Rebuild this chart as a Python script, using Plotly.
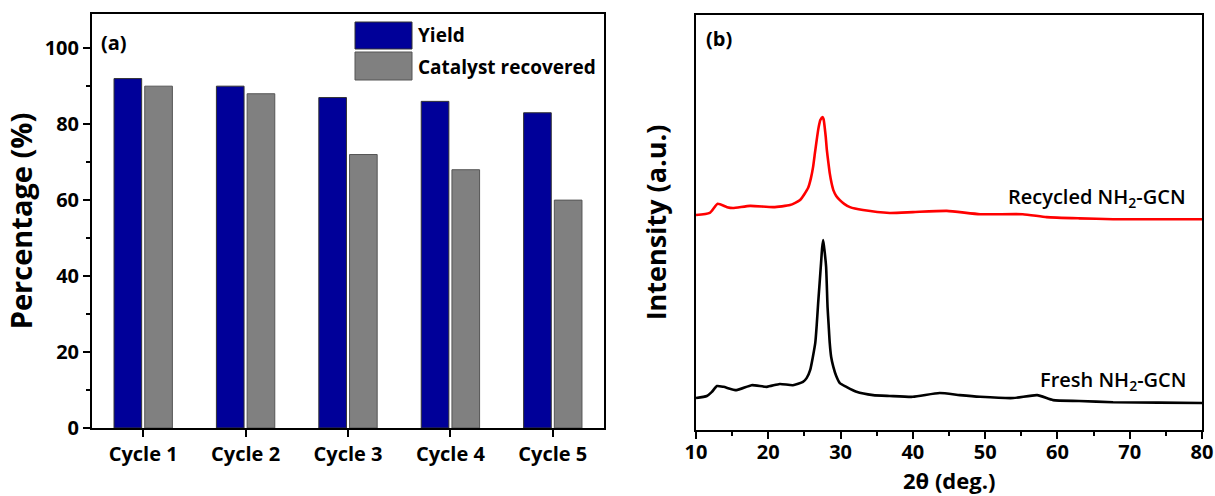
import plotly.graph_objects as go

# ---------------- data ----------------
cycles = ["Cycle 1", "Cycle 2", "Cycle 3", "Cycle 4", "Cycle 5"]
yield_pct = [92, 90, 87, 86, 83]
catalyst_recovered_pct = [90, 88, 72, 68, 60]

fresh_2theta = [10, 11.5, 12.2, 12.9, 13.8, 15.6, 17.7, 19.8, 21.6, 23.4, 24.8, 25.3, 25.8,
                26.5, 26.7, 26.9, 27.1, 27.3, 27.45, 27.6, 27.8, 28.0, 28.2, 28.35, 28.5, 28.7,
                29.0, 29.4, 29.9, 30.8, 32.2, 34.5, 36.8,
                40, 43.7, 46.5, 49.3, 53.9, 57.2, 59.4, 63, 67.7, 74, 80]
fresh_intensity = [7.7, 8.2, 9.2, 10.6, 10.4, 9.6, 10.8, 10.4, 11.1, 10.8, 11.6, 12.5, 14.5,
                   21.0, 25.3, 30.6, 35.4, 40.2, 43.9, 45.8, 42.9, 39.3, 29.6, 25.3, 21.0, 17.6,
                   15.2, 13.0, 11.3, 10.4, 9.2, 8.4, 8.2,
                   8.0, 8.9, 8.4, 8.0, 7.7, 8.4, 7.2, 7.0, 6.7, 6.6, 6.5]

recycled_2theta = [10, 11.9, 13.0, 14.3, 15.1, 17.5, 20.7, 23.0, 24.4, 25.5, 25.9, 26.2, 26.45,
                   26.7, 26.95, 27.2, 27.5, 27.65, 27.8, 27.95, 28.1, 28.3, 28.5, 28.75, 29.0,
                   29.4, 29.9, 30.5, 31.3, 33.1, 36.8, 40, 44.7,
                   49.3, 55.2, 58.5, 63, 67.7, 74, 80]
recycled_intensity = [51.8, 52.3, 54.5, 53.7, 53.5, 54.0, 53.7, 54.2, 55.4, 58.3, 60.7, 63.4, 66.7,
                      69.9, 72.8, 74.7, 75.4, 74.9, 73.0, 70.6, 67.5, 64.6, 61.9, 59.5, 57.8,
                      56.4, 55.4, 54.5, 53.7, 53.0, 52.3, 52.5, 52.8,
                      52.0, 52.0, 51.3, 51.0, 50.8, 50.8, 50.8]

W, H = 1215, 496
FONT = "Open Sans"
BLUE = "#000099"
GRAY = "#808080"


def px_x(p):
    return p / W


def px_y(p):
    return (H - p) / H


fig = go.Figure()

fig.add_trace(go.Bar(x=cycles, y=yield_pct, name="Yield", marker=dict(color=BLUE, line=dict(color="#333333", width=1)),
                     xaxis="x", yaxis="y", showlegend=False))
fig.add_trace(go.Bar(x=cycles, y=catalyst_recovered_pct, name="Catalyst recovered",
                     marker=dict(color=GRAY, line=dict(color="#555555", width=1)),
                     xaxis="x", yaxis="y", showlegend=False))

fig.add_trace(go.Scatter(x=recycled_2theta, y=recycled_intensity, mode="lines", name="Recycled NH2-GCN",
                         line=dict(color="#FF0000", width=2.6, shape="spline", smoothing=0.5),
                         xaxis="x2", yaxis="y2", showlegend=False))
fig.add_trace(go.Scatter(x=fresh_2theta, y=fresh_intensity, mode="lines", name="Fresh NH2-GCN",
                         line=dict(color="black", width=2.6, shape="spline", smoothing=0.5),
                         xaxis="x2", yaxis="y2", showlegend=False))

tickfont = dict(family=FONT, size=20, color="black", weight="bold")
axis_common = dict(showline=True, linecolor="black", linewidth=2, mirror=True, showgrid=False,
                   zeroline=False, ticks="outside", tickwidth=2, tickcolor="black", ticklen=7,
                   tickfont=tickfont, automargin=False)

fig.update_layout(
    width=W, height=H,
    margin=dict(l=0, r=0, t=0, b=0),
    paper_bgcolor="white", plot_bgcolor="white",
    barmode="group", bargap=0.4, bargroupgap=0.1,
    xaxis=dict(domain=[px_x(92), px_x(604)], anchor="y", type="category", range=[-0.5, 4.5], **axis_common),
    yaxis=dict(domain=[px_y(428), px_y(14)], anchor="x", range=[0, 109], dtick=20,
               minor=dict(dtick=10, ticks="outside", ticklen=4, tickwidth=2, tickcolor="black"),
               title=dict(text="Percentage (%)", font=dict(family=FONT, size=29, color="black", weight="bold"),
                          standoff=4),
               **axis_common),
    xaxis2=dict(domain=[px_x(696), px_x(1202)], anchor="y2", range=[10, 80], dtick=10,
                minor=dict(dtick=5, ticks="outside", ticklen=4, tickwidth=2, tickcolor="black"),
                ticklabelstandoff=-4,
                **axis_common),
    yaxis2=dict(domain=[px_y(430), px_y(15)], anchor="x2", range=[0, 100],
                showline=True, linecolor="black", linewidth=2, mirror=True, showgrid=False,
                zeroline=False, ticks="", showticklabels=False, automargin=False,
                title=dict(text="Intensity (a.u.)", font=dict(family=FONT, size=27, color="black", weight="bold"),
                           standoff=20)),
)

# x-axis title of panel (b), placed below the tick labels
fig.add_annotation(xref="paper", yref="paper", x=px_x(949), y=0, text="2θ (deg.)", showarrow=False,
                   xanchor="center", yanchor="bottom", borderpad=0,
                   font=dict(family=FONT, size=22, color="black", weight="bold"))

# custom legend for panel (a)
legend_items = [("Yield", BLUE, "#333333", 22, 49, 35.5), ("Catalyst recovered", GRAY, "#555555", 52, 80, 67)]
for label, fill, edge, top, bot, cy in legend_items:
    fig.add_shape(type="rect", xref="paper", yref="paper", x0=px_x(355), x1=px_x(412),
                  y0=px_y(bot), y1=px_y(top), fillcolor=fill, line=dict(color=edge, width=1))
    fig.add_annotation(xref="paper", yref="paper", x=px_x(416), y=px_y(cy), text=label, showarrow=False,
                       xanchor="left", yanchor="middle",
                       font=dict(family=FONT, size=19, color="black", weight="bold"))

# panel labels
fig.add_annotation(xref="paper", yref="paper", x=px_x(114), y=px_y(43), text="(a)", showarrow=False,
                   xanchor="center", yanchor="middle", font=dict(family=FONT, size=20, color="black", weight="bold"))
fig.add_annotation(xref="paper", yref="paper", x=px_x(719), y=px_y(38), text="(b)", showarrow=False,
                   xanchor="center", yanchor="middle", font=dict(family=FONT, size=20, color="black", weight="bold"))

# curve labels
fig.add_annotation(xref="paper", yref="paper", x=px_x(1188), y=px_y(197), text="Recycled NH<sub>2</sub>-GCN",
                   showarrow=False, xanchor="right", yanchor="middle",
                   font=dict(family=FONT, size=20, color="black", weight=600))
fig.add_annotation(xref="paper", yref="paper", x=px_x(1188), y=px_y(380), text="Fresh NH<sub>2</sub>-GCN",
                   showarrow=False, xanchor="right", yanchor="middle",
                   font=dict(family=FONT, size=20, color="black", weight=600))

fig.write_html("out.html")
